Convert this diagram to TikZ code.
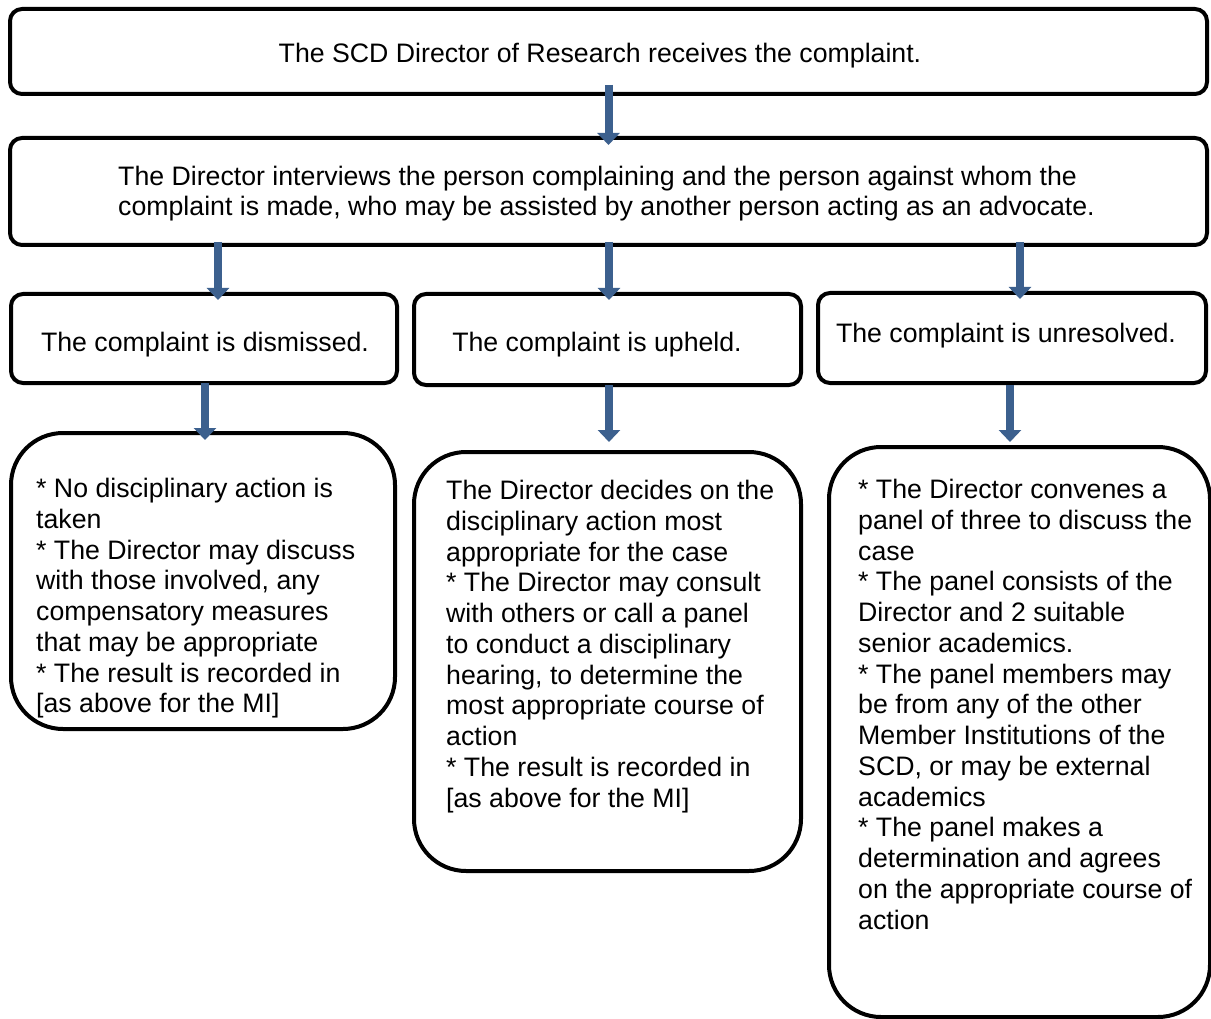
\documentclass[tikz,border=0pt]{standalone}
\usepackage{fontspec}
\setmainfont{Liberation Sans}
\usetikzlibrary{arrows.meta}
\definecolor{arrowblue}{RGB}{60,96,142}
\tikzset{
  box/.style={draw=black, line width=4pt, rounded corners=12pt, inner sep=0pt, fill=white},
  bigbox/.style={draw=black, line width=4pt, rounded corners=52pt, inner sep=0pt, fill=white},
  txt/.style={inner sep=0pt, font=\fontsize{26.7}{30.75}\selectfont, align=left},
  barrow/.style={draw=arrowblue, line width=8pt, -{Triangle[width=22pt,length=12pt]}}
}
\begin{document}
\begin{tikzpicture}[x=1pt,y=-1pt]
\useasboundingbox[fill=white] (0,0) rectangle (1211,1019);
% boxes
\node[box, minimum width=1197pt, minimum height=85pt] (b1) at (608.5,51.5) {};
\node[box, minimum width=1197pt, minimum height=107pt] (b2) at (608.5,191.5) {};
\node[box, minimum width=386pt, minimum height=89pt] (b3a) at (204,338.5) {};
\node[box, minimum width=387pt, minimum height=91pt] (b3b) at (607.5,339.5) {};
\node[box, minimum width=388pt, minimum height=90pt] (b3c) at (1012,338) {};
\node[bigbox, minimum width=384pt, minimum height=296pt] (b4a) at (203,581) {};
\node[bigbox, minimum width=387pt, minimum height=419pt] (b4b) at (607.5,661.5) {};
\node[bigbox, minimum width=381pt, minimum height=570pt] (b4c) at (1019.5,732) {};
% texts
\node[txt] (t1) at (600,56) {The SCD Director of Research receives the complaint.};
\node[txt, anchor=west] (t2) at (118,193.5) {The Director interviews the person complaining and the person against whom the\\complaint is made, who may be assisted by another person acting as an advocate.};
\node[txt] (t3a) at (205,345) {The complaint is dismissed.};
\node[txt] (t3b) at (597,345) {The complaint is upheld.};
\node[txt] (t3c) at (1006,336) {The complaint is unresolved.};
\node[txt, anchor=north west] (t4a) at (36,478) {* No disciplinary action is\\taken\\* The Director may discuss\\with those involved, any\\compensatory measures\\that may be appropriate\\* The result is recorded in\\{[as above for the MI]}};
\node[txt, anchor=north west] (t4b) at (446,480) {The Director decides on the\\disciplinary action most\\appropriate for the case\\* The Director may consult\\with others or call a panel\\to conduct a disciplinary\\hearing, to determine the\\most appropriate course of\\action\\* The result is recorded in\\{[as above for the MI]}};
\node[txt, anchor=north west] (t4c) at (858,479) {* The Director convenes a\\panel of three to discuss the\\case\\* The panel consists of the\\Director and 2 suitable\\senior academics.\\* The panel members may\\be from any of the other\\Member Institutions of the\\SCD, or may be external\\academics\\* The panel makes a\\determination and agrees\\on the appropriate course of\\action};
% arrows
\draw[barrow] ([yshift=11pt]b1.south) -- ([yshift=-9pt]b2.north);
\draw[barrow] ([xshift=14pt,yshift=5pt]b3a.north |- b2.south) -- ([xshift=14pt,yshift=-8pt]b3a.north);
\draw[barrow] ([xshift=1.5pt,yshift=5pt]b3b.north |- b2.south) -- ([xshift=1.5pt,yshift=-8pt]b3b.north);
\draw[barrow] ([xshift=8pt,yshift=5pt]b3c.north |- b2.south) -- ([xshift=8pt,yshift=-8pt]b3c.north);
\draw[barrow] ([xshift=1pt,yshift=2pt]b3a.south) -- ([xshift=1pt,yshift=-9pt]b3a.south |- b4a.north);
\draw[barrow] ([xshift=1.5pt,yshift=2pt]b3b.south) -- ([xshift=1.5pt,yshift=8pt]b4b.north);
\draw[barrow] ([xshift=-2pt,yshift=0pt]b3c.south) -- ([xshift=-2pt,yshift=3pt]b3c.south |- b4c.north);
\end{tikzpicture}
\end{document}
